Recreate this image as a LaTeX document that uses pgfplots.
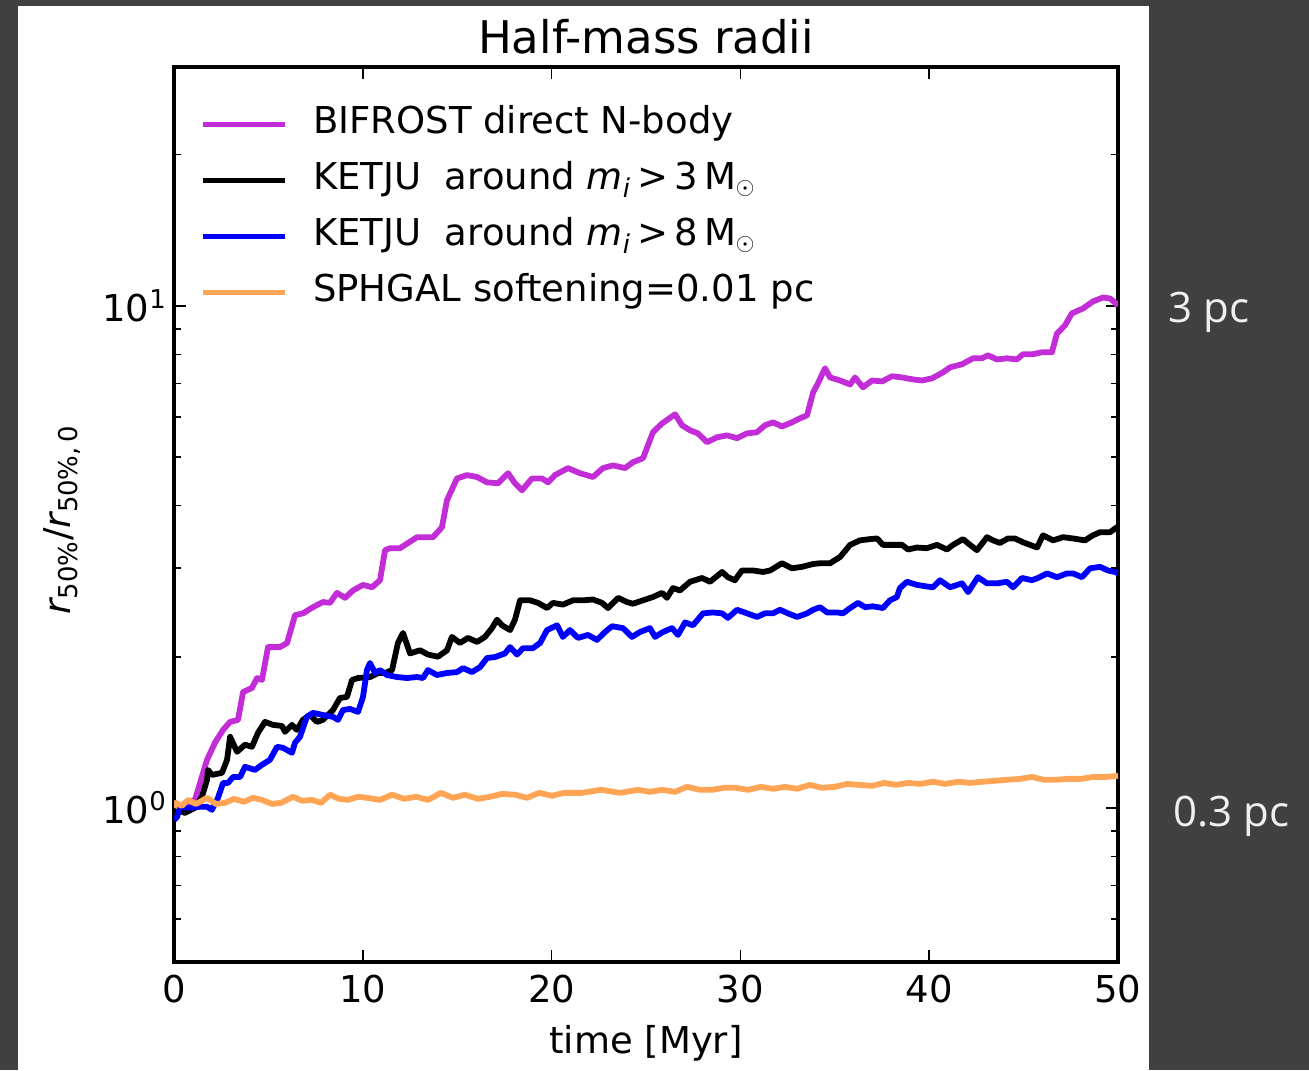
\documentclass[border=0pt]{standalone}
\usepackage{pgfplots}
\pgfplotsset{compat=1.18}
\usepackage{pgfplotstable}
\usepackage{fontspec}
\setmainfont{DejaVu Sans}
\newfontfamily\slidefont{Open Sans}

\definecolor{slidebg}{RGB}{64,64,64}
\definecolor{bifrost}{RGB}{195,45,215}
\definecolor{ketjuhi}{RGB}{0,0,255}
\definecolor{sphgal}{RGB}{255,165,85}
\newcommand\chartfont{\fontsize{18.5}{22}\selectfont}

% time [Myr]  r50/r50,0
\pgfplotstableread{
t v
0 1.009
0.16 1.005
1.11 1.037
1.54 1.174
1.75 1.246
2.17 1.348
2.60 1.430
2.97 1.483
3.39 1.497
3.66 1.701
4.13 1.733
4.40 1.814
4.66 1.798
4.98 2.09
5.61 2.09
5.99 2.13
6.41 2.42
6.83 2.44
7.36 2.51
7.89 2.57
8.26 2.56
8.63 2.68
9.06 2.62
9.48 2.71
10.01 2.78
10.49 2.75
10.91 2.84
11.18 3.26
11.44 3.29
11.97 3.29
12.87 3.46
13.72 3.46
14.19 3.62
14.46 4.10
14.99 4.53
15.52 4.60
16.05 4.56
16.58 4.45
17.16 4.43
17.69 4.64
18.06 4.43
18.43 4.29
18.96 4.53
19.49 4.53
19.81 4.45
20.18 4.60
20.87 4.75
21.50 4.64
22.19 4.56
22.72 4.75
23.25 4.81
23.89 4.75
24.31 4.88
24.84 4.97
25.37 5.60
25.85 5.83
26.54 6.08
26.91 5.78
27.33 5.65
27.75 5.57
28.23 5.35
28.76 5.47
29.29 5.52
29.82 5.45
30.35 5.57
30.88 5.60
31.30 5.78
31.73 5.86
32.20 5.75
32.73 5.86
33.16 5.97
33.53 6.05
33.85 6.72
34.11 7.01
34.48 7.51
34.75 7.20
35.28 7.10
35.81 6.97
36.07 7.20
36.49 6.88
36.97 7.10
37.50 7.07
38.03 7.24
38.56 7.20
39.09 7.14
39.62 7.10
40.15 7.17
40.73 7.37
41.10 7.54
41.74 7.65
42.32 7.86
42.80 7.86
43.11 7.97
43.59 7.82
44.12 7.86
44.65 7.82
44.97 8.01
45.50 8.01
45.97 8.08
46.50 8.08
46.77 8.81
47.19 9.14
47.56 9.66
48.15 9.88
48.67 10.20
49.21 10.39
49.58 10.34
49.89 10.11
50 10.0
}\bifrostdata

\pgfplotstableread{
t v
0 0.982
0.16 0.991
0.58 0.977
1.11 1.000
1.48 1.052
1.75 1.137
1.80 1.190
2.01 1.163
2.54 1.174
2.81 1.246
2.97 1.385
3.34 1.293
3.76 1.336
4.13 1.323
4.45 1.411
4.82 1.483
5.24 1.463
5.72 1.456
5.88 1.417
6.25 1.463
6.51 1.430
6.83 1.497
7.20 1.531
7.57 1.483
7.89 1.497
8.42 1.566
8.79 1.655
9.16 1.663
9.43 1.798
9.75 1.814
10.38 1.822
10.81 1.856
11.18 1.856
11.55 1.881
11.86 2.13
12.13 2.23
12.50 2.03
13.03 2.06
13.45 2.02
13.98 2.00
14.46 2.06
14.72 2.19
15.15 2.13
15.57 2.18
16.05 2.14
16.47 2.19
16.84 2.28
17.11 2.37
17.37 2.31
17.80 2.26
18.06 2.37
18.33 2.59
18.86 2.59
19.28 2.56
19.76 2.50
20.07 2.56
20.60 2.54
21.13 2.59
21.66 2.59
22.19 2.60
22.67 2.56
22.99 2.50
23.52 2.62
23.99 2.57
24.31 2.55
24.84 2.59
25.37 2.63
25.85 2.68
26.11 2.62
26.43 2.74
26.80 2.71
27.33 2.82
27.97 2.87
28.39 2.82
29.03 2.95
29.34 2.88
29.71 2.84
30.08 2.97
30.67 2.97
31.20 2.95
31.57 2.97
32.20 3.07
32.73 3.00
33.26 3.02
33.85 3.06
34.22 3.07
34.75 3.07
35.28 3.16
35.81 3.34
36.33 3.41
36.86 3.43
37.24 3.44
37.55 3.34
38.08 3.34
38.56 3.34
38.88 3.27
39.35 3.30
39.88 3.29
40.41 3.34
40.94 3.27
41.26 3.34
41.79 3.43
42.16 3.34
42.53 3.26
43.06 3.46
43.38 3.41
43.75 3.37
44.17 3.44
44.54 3.44
44.97 3.38
45.34 3.34
45.71 3.30
46.03 3.49
46.56 3.41
47.09 3.46
47.62 3.44
48.25 3.41
48.67 3.49
49.05 3.54
49.58 3.54
49.89 3.61
50 3.63
}\ketjulodata

\pgfplotstableread{
t v
0 0.946
0.16 0.959
0.32 1.005
0.85 1.000
1.38 1.005
1.75 1.005
2.01 0.991
2.33 1.047
2.60 1.121
2.86 1.121
3.13 1.152
3.50 1.152
3.76 1.207
4.29 1.190
4.66 1.218
5.08 1.246
5.46 1.323
5.77 1.317
6.25 1.287
6.41 1.348
6.67 1.385
7.04 1.518
7.36 1.546
7.89 1.531
8.42 1.518
8.69 1.497
8.95 1.566
9.32 1.574
9.75 1.553
10.01 1.663
10.22 1.881
10.38 1.943
10.65 1.856
10.91 1.881
11.28 1.839
11.81 1.822
12.34 1.814
12.87 1.822
13.19 1.814
13.45 1.881
13.93 1.839
14.46 1.856
14.99 1.864
15.31 1.898
15.78 1.864
16.21 1.907
16.58 1.988
17.00 1.997
17.53 2.03
17.80 2.09
18.17 2.02
18.49 2.08
19.01 2.08
19.39 2.13
19.76 2.26
20.29 2.31
20.60 2.19
20.97 2.26
21.40 2.18
21.93 2.21
22.40 2.16
22.83 2.24
23.20 2.30
23.78 2.28
24.26 2.19
24.68 2.24
25.21 2.28
25.48 2.19
25.90 2.24
26.38 2.28
26.69 2.21
27.07 2.34
27.49 2.31
28.02 2.44
28.55 2.45
29.03 2.44
29.34 2.39
29.82 2.48
30.35 2.44
30.88 2.40
31.30 2.44
31.73 2.44
32.10 2.48
32.52 2.44
33.00 2.40
33.53 2.44
33.85 2.48
34.22 2.51
34.59 2.45
35.12 2.45
35.43 2.44
35.81 2.50
36.23 2.56
36.60 2.51
37.02 2.52
37.55 2.50
37.92 2.59
38.29 2.63
38.45 2.74
38.82 2.82
39.35 2.78
39.88 2.76
40.20 2.75
40.57 2.84
41.10 2.75
41.74 2.80
42.06 2.69
42.58 2.88
43.06 2.80
43.59 2.80
44.12 2.82
44.44 2.75
44.92 2.87
45.44 2.84
45.76 2.87
46.24 2.93
46.77 2.88
47.30 2.93
47.62 2.93
48.09 2.88
48.52 3.00
49.05 3.02
49.47 2.97
49.84 2.95
50 2.93
}\ketjuhidata

\pgfplotstableread{
t v
0 1.000
0.10 1.023
0.42 1.009
0.74 1.037
1.17 1.018
1.75 1.047
2.22 1.018
2.70 1.023
3.18 1.042
3.71 1.028
4.18 1.047
4.66 1.037
5.19 1.018
5.67 1.023
6.30 1.052
6.78 1.033
7.31 1.037
7.79 1.023
8.26 1.062
8.74 1.042
9.22 1.037
9.75 1.052
10.22 1.047
10.91 1.037
11.55 1.062
12.18 1.042
12.82 1.052
13.45 1.037
14.14 1.071
14.78 1.047
15.41 1.062
16.10 1.042
16.74 1.052
17.37 1.066
18.06 1.062
18.70 1.047
19.33 1.071
20.02 1.057
20.66 1.071
21.61 1.071
22.62 1.086
23.62 1.071
24.58 1.086
25.21 1.076
25.85 1.086
26.54 1.076
27.17 1.101
27.86 1.086
28.50 1.086
29.13 1.096
29.77 1.096
30.40 1.086
31.09 1.101
31.73 1.091
32.36 1.101
33.00 1.091
33.69 1.111
34.32 1.096
35.01 1.101
35.65 1.116
36.28 1.111
36.97 1.106
37.61 1.121
38.24 1.111
38.88 1.121
39.51 1.116
40.20 1.127
40.84 1.116
41.53 1.127
42.16 1.121
42.80 1.127
43.48 1.132
44.12 1.137
44.81 1.142
45.44 1.152
46.08 1.137
46.72 1.137
47.35 1.142
48.04 1.142
48.67 1.152
49.31 1.152
50 1.158
}\sphgaldata

\begin{document}
\begin{tikzpicture}
% slide background and white figure panel
\path[use as bounding box, fill=slidebg] (0pt,0pt) rectangle (654.5pt,-535pt);
\fill[white] (9pt,-3pt) rectangle (574.5pt,-535pt);
\node[text=white!94!black, font=\slidefont\fontsize{21}{25}\selectfont] at (604.5pt,-156pt) {3 pc};
\node[text=white!94!black, font=\slidefont\fontsize{21}{25}\selectfont] at (615.7pt,-408pt) {0.3 pc};

\begin{axis}[
  at={(87pt,-481pt)}, anchor=south west,
  scale only axis, width=472pt, height=447.5pt,
  xmin=0, xmax=50, ymode=log, ymin=0.493, ymax=29.9,
  xtick={0,10,20,30,40,50},
  ytick={1,10},
  yticklabels={10\textsuperscript{0},10\textsuperscript{1}},
  minor ytick={0.6,0.7,0.8,0.9,2,3,4,5,6,7,8,9,20},
  /pgf/number format/assume math mode=true,
  tick align=inside,
  major tick length=6pt, minor tick length=3.5pt,
  tick style={line width=0.8pt, black},
  axis line style={line width=2.25pt},
  tick label style={font=\chartfont},
  xticklabel style={yshift=-3pt},
  label style={font=\chartfont},
  title={Half-mass radii},
  title style={font=\fontsize{22.5}{27}\selectfont, at={(axis description cs:0.5,1)}, anchor=base, yshift=1pt},
  xlabel={time [Myr]},
  xlabel style={at={(axis description cs:0.5,-0.1017)}, anchor=base},
  ylabel={{\itshape r}\textsubscript{50\%}/{\itshape r}\textsubscript{50\%,\,0}},
  ylabel style={at={(axis description cs:-0.1186,0.494)}, anchor=center},
  every axis plot/.append style={line width=2.9pt, line join=round},
  legend cell align=left,
  legend image code/.code={\draw[#1] (0pt,0pt) -- (41pt,0pt);},
  legend style={draw=none, fill=none, font=\chartfont, inner sep=0pt,
    at={(axis description cs:0.0275,0.9564)}, anchor=north west,
    row sep=10pt,
    nodes={inner sep=0pt, text height=13.5pt, text depth=4.5pt},
    /tikz/every odd column/.append style={column sep=12.5pt}},
]
\addplot[bifrost] table[x=t, y=v] {\bifrostdata};
\addlegendentry{BIFROST direct N-body}
\addplot[black] table[x=t, y=v] {\ketjulodata};
\addlegendentry{KETJU\ \ around {\itshape m\textsubscript{i}}\,>\,3\,M\textsubscript{$\odot$}}
\addplot[ketjuhi] table[x=t, y=v] {\ketjuhidata};
\addlegendentry{KETJU\ \ around {\itshape m\textsubscript{i}}\,>\,8\,M\textsubscript{$\odot$}}
\addplot[sphgal] table[x=t, y=v] {\sphgaldata};
\addlegendentry{SPHGAL softening=0.01 pc}
\end{axis}
\end{tikzpicture}
\end{document}
